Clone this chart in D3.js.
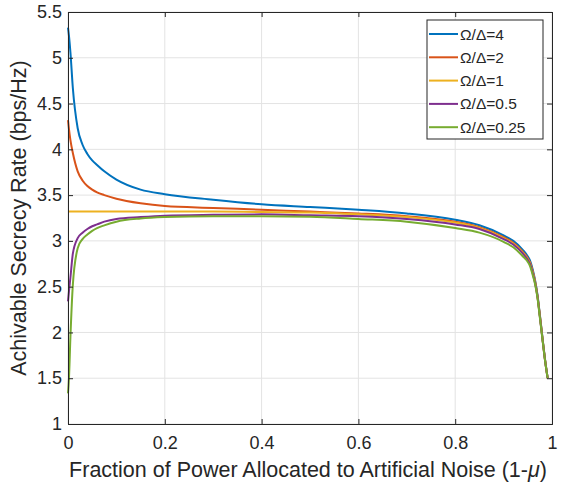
<!DOCTYPE html>
<html lang="en">
<head>
<meta charset="UTF-8">
<title>Achivable Secrecy Rate</title>
<style>
    body { margin: 0; background: #fff; overflow: hidden; }
    svg { display: block; }
    text { font-family: "Liberation Sans", Arial, sans-serif; fill: #262626; }
    .tick text { font-size: 18px; }
    .grid line { stroke: #e3e3e3; }
</style>
</head>
<body>
<svg width="561" height="487"></svg>
<script src="https://d3js.org/d3.v7.min.js"></script>
<script>

    // fraction of power to artificial noise (1-mu)
    const fraction = [0, 0.002, 0.005, 0.01, 0.02, 0.03, 0.04, 0.05, 0.06, 0.075, 0.1, 0.15, 0.2, 0.3, 0.4,
                      0.5, 0.6, 0.7, 0.8, 0.85, 0.9, 0.92, 0.94, 0.95, 0.955, 0.96, 0.965, 0.97,
                      0.975, 0.98, 0.985, 0.991];

    const ratio4    = [5.33, 5.24, 5.06, 4.67, 4.23, 4.05, 3.95, 3.88, 3.83, 3.76, 3.67, 3.56, 3.51, 3.45, 3.40,
                       3.37, 3.34, 3.30, 3.23, 3.17, 3.06, 3.00, 2.90, 2.83, 2.78, 2.69, 2.57, 2.41,
                       2.19, 1.96, 1.73, 1.5];
    const ratio2    = [4.32, 4.22, 4.10, 3.96, 3.76, 3.66, 3.60, 3.56, 3.53, 3.50, 3.46, 3.41, 3.38, 3.36, 3.34,
                       3.32, 3.30, 3.27, 3.21, 3.15, 3.04, 2.98, 2.88, 2.81, 2.76, 2.67, 2.56, 2.40,
                       2.18, 1.95, 1.73, 1.5];
    const ratio1    = [3.32, 3.32, 3.32, 3.32, 3.32, 3.32, 3.32, 3.32, 3.32, 3.32, 3.32, 3.32, 3.32, 3.32, 3.315,
                       3.31, 3.29, 3.26, 3.20, 3.14, 3.03, 2.97, 2.87, 2.80, 2.75, 2.66, 2.55, 2.39,
                       2.18, 1.95, 1.72, 1.5];
    const ratio05   = [2.34, 2.45, 2.60, 2.86, 3.03, 3.09, 3.13, 3.16, 3.18, 3.21, 3.24, 3.26, 3.275, 3.285, 3.29,
                       3.28, 3.27, 3.24, 3.18, 3.13, 3.02, 2.96, 2.86, 2.79, 2.74, 2.65, 2.54, 2.39,
                       2.17, 1.94, 1.72, 1.5];
    const ratio025  = [1.335, 1.5, 1.95, 2.52, 2.92, 3.02, 3.07, 3.11, 3.14, 3.17, 3.21, 3.245, 3.26, 3.27, 3.27,
                       3.265, 3.24, 3.21, 3.14, 3.09, 2.99, 2.93, 2.83, 2.77, 2.72, 2.63, 2.53, 2.38,
                       2.16, 1.94, 1.72, 1.5];

    const seriesNames = ['\u03A9/\u0394=4', '\u03A9/\u0394=2', '\u03A9/\u0394=1', '\u03A9/\u0394=0.5', '\u03A9/\u0394=0.25'];
    const seriesValues = [ratio4, ratio2, ratio1, ratio05, ratio025];
    const colors = ['#0072BD', '#D95319', '#EDB120', '#7E2F8E', '#77AC30'];

    const xTicks = [0, 0.2, 0.4, 0.6, 0.8, 1];
    const yTicks = [1, 1.5, 2, 2.5, 3, 3.5, 4, 4.5, 5, 5.5];

    const margin = { left: 68, right: 9, top: 12, bottom: 63 };

    const svg = d3.select('svg');
    const width = +svg.attr('width');
    const height = +svg.attr('height');
    const innerWidth = width - margin.left - margin.right;
    const innerHeight = height - margin.top - margin.bottom;

    const xScale = d3.scaleLinear().domain([0, 1]).range([0, innerWidth]);
    const yScale = d3.scaleLinear().domain([1, 5.5]).range([innerHeight, 0]);

    const group = svg.append('g')
        .attr('transform', 'translate(' + margin.left + ' ' + margin.top + ')');

    // grid
    const grid = group.append('g').attr('class', 'grid');
    grid.selectAll('.gx').data(xTicks).enter().append('line')
        .attr('x1', d => xScale(d)).attr('x2', d => xScale(d))
        .attr('y1', 0).attr('y2', innerHeight);
    grid.selectAll('.gy').data(yTicks).enter().append('line')
        .attr('y1', d => yScale(d)).attr('y2', d => yScale(d))
        .attr('x1', 0).attr('x2', innerWidth);

    // lines
    const line = d3.line()
        .x((d, i) => xScale(fraction[i]))
        .y(d => yScale(d))
        .curve(d3.curveMonotoneX);

    group.selectAll('.series')
        .data(seriesValues)
        .enter()
        .append('path')
        .attr('d', d => line(d))
        .attr('fill', 'none')
        .attr('stroke', (d, i) => colors[i])
        .attr('stroke-width', 2);

    // axes (box with ticks on all sides)
    const xAxis = d3.axisBottom(xScale).tickValues(xTicks).tickFormat(d3.format('')).tickSize(-5).tickPadding(12);
    const yAxis = d3.axisLeft(yScale).tickValues(yTicks).tickFormat(d3.format('')).tickSize(-5).tickPadding(6);

    group.append('g').attr('transform', 'translate(0 ' + innerHeight + ')').call(xAxis);
    group.append('g').call(yAxis);
    const topG = group.append('g').call(d3.axisTop(xScale).tickValues(xTicks).tickSize(-5));
    const rightG = group.append('g').attr('transform', 'translate(' + innerWidth + ' 0)')
        .call(d3.axisRight(yScale).tickValues(yTicks).tickSize(-5));
    topG.selectAll('text').remove();
    rightG.selectAll('text').remove();

    group.selectAll('.domain').attr('stroke', '#262626');
    group.selectAll('.tick line').attr('stroke', '#262626');

    // axis labels
    const xLabel = svg.append('text')
        .attr('x', margin.left + innerWidth / 2 - 2)
        .attr('y', 476.5)
        .style('font-size', '21.5px')
        .style('text-anchor', 'middle');
    xLabel.append('tspan').text('Fraction of Power Allocated to Artificial Noise (1-');
    xLabel.append('tspan').text('\u03BC').style('font-style', 'italic');
    xLabel.append('tspan').text(')');

    svg.append('text')
        .text('Achivable Secrecy Rate (bps/Hz)')
        .attr('transform', 'translate(26 ' + (margin.top + innerHeight / 2) + ') rotate(-90)')
        .style('font-size', '21.5px')
        .style('text-anchor', 'middle');

    // legend
    const legend = svg.append('g').attr('transform', 'translate(427 20)');
    legend.append('rect')
        .attr('width', 116).attr('height', 119)
        .attr('fill', '#fff').attr('stroke', '#262626');

    const rows = legend.selectAll('.row').data(seriesNames).enter().append('g')
        .attr('transform', (d, i) => 'translate(0 ' + (14 + i * 23.3) + ')');
    rows.append('line')
        .attr('x1', 2).attr('x2', 31)
        .attr('stroke', (d, i) => colors[i]).attr('stroke-width', 2);
    rows.append('text')
        .text(d => d)
        .attr('x', 33).attr('y', 5.5)
        .style('font-size', '15.5px');

</script>
</body>
</html>
